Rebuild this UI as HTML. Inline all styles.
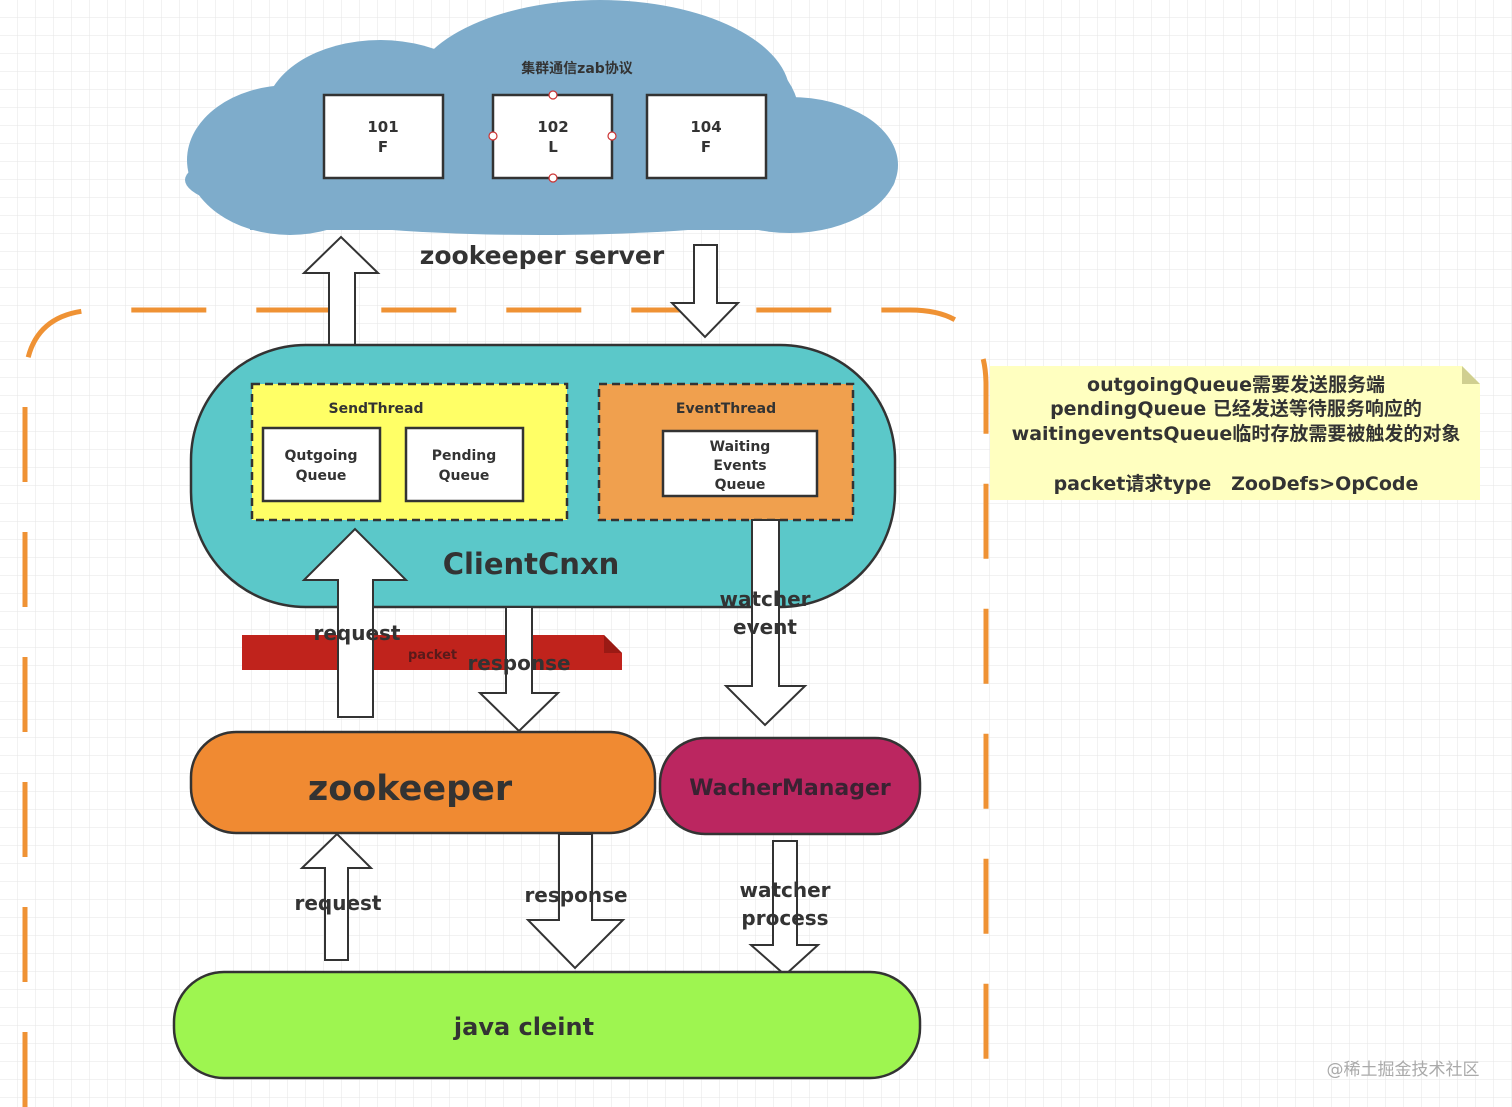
<!DOCTYPE html>
<html><head><meta charset="utf-8"><style>
html,body{margin:0;padding:0;background:#fff;}
svg{display:block;}
text{font-family:"DejaVu Sans","Liberation Sans","Noto Sans CJK SC",sans-serif;font-weight:bold;fill:#333;}
</style></head><body>
<svg width="1512" height="1107" viewBox="0 0 1512 1107" xmlns="http://www.w3.org/2000/svg">
<defs>
<pattern id="g" width="18" height="18" patternUnits="userSpaceOnUse">
<path d="M18 0V18H0" fill="none" stroke="#e6e6e6" stroke-width="1"/>
</pattern>
</defs>
<rect width="1512" height="1107" fill="#fff"/>
<rect width="1512" height="1107" fill="url(#g)"/>

<!-- cloud -->
<g fill="#7eaccb">
<ellipse cx="540" cy="180" rx="355" ry="55"/>
<ellipse cx="290" cy="160" rx="103" ry="75"/>
<ellipse cx="600" cy="95" rx="190" ry="95"/>
<ellipse cx="380" cy="115" rx="115" ry="75"/>
<ellipse cx="790" cy="165" rx="108" ry="68"/>
<ellipse cx="730" cy="120" rx="70" ry="70"/>
<rect x="250" y="120" width="560" height="110"/>
</g>
<text x="577" y="73" font-size="14" text-anchor="middle" font-family="Noto Sans CJK SC">集群通信zab协议</text>
<g fill="#fff" stroke="#333" stroke-width="2.5">
<rect x="324" y="95" width="119" height="83"/>
<rect x="493" y="95" width="119" height="83"/>
<rect x="647" y="95" width="119" height="83"/>
</g>
<g fill="#fff" stroke="#c33" stroke-width="1.2">
<circle cx="553" cy="95" r="4"/><circle cx="553" cy="178" r="4"/><circle cx="493" cy="136" r="4"/><circle cx="612" cy="136" r="4"/>
</g>
<g font-size="15" text-anchor="middle">
<text x="383" y="132">101</text><text x="383" y="152">F</text>
<text x="553" y="132">102</text><text x="553" y="152">L</text>
<text x="706" y="132">104</text><text x="706" y="152">F</text>
</g>
<text x="542" y="264" font-size="25" text-anchor="middle">zookeeper server</text>

<!-- orange dashed border -->
<path d="M25 1107 V385 Q25 310 100 310 H910 Q986 310 986 385 V1107" fill="none" stroke="#ef9234" stroke-width="5" stroke-dasharray="75,50"/>

<!-- server arrows -->
<path d="M329 347 V273 H304 L341 237 L378 273 H355 V347 Z" fill="#fff" stroke="#333" stroke-width="2"/>
<path d="M694 245 H717 V303 H738 L705 337 L672 303 H694 Z" fill="#fff" stroke="#333" stroke-width="2"/>

<!-- ClientCnxn -->
<rect x="191" y="345" width="704" height="262" rx="115" fill="#5bc8c9" stroke="#333" stroke-width="2.5"/>
<rect x="252" y="384" width="315" height="136" fill="#ffff66" stroke="#333" stroke-width="2.5" stroke-dasharray="8,5"/>
<rect x="599" y="384" width="254" height="136" fill="#f0a04e" stroke="#333" stroke-width="2.5" stroke-dasharray="8,5"/>
<g fill="#fff" stroke="#333" stroke-width="2.5">
<rect x="263" y="428" width="117" height="73"/>
<rect x="406" y="428" width="117" height="73"/>
<rect x="663" y="431" width="154" height="65"/>
</g>
<g font-size="14" text-anchor="middle">
<text x="376" y="413">SendThread</text>
<text x="726" y="413">EventThread</text>
<text x="321" y="460">Qutgoing</text><text x="321" y="480">Queue</text>
<text x="464" y="460">Pending</text><text x="464" y="480">Queue</text>
<text x="740" y="451">Waiting</text><text x="740" y="470">Events</text><text x="740" y="489">Queue</text>
</g>
<text x="531" y="574" font-size="29" text-anchor="middle">ClientCnxn</text>

<!-- red bar -->
<path d="M242 635 H604 L622 653 V670 H242 Z" fill="#c0231c"/>
<path d="M604 635 L622 653 H604 Z" fill="#9a1a14"/>
<text x="408" y="659" font-size="13" style="fill:#5a1a1a">packet</text>

<!-- middle arrows -->
<path d="M338 717 V580 H304 L355 529 L406 580 H373 V717 Z" fill="#fff" stroke="#333" stroke-width="2"/>
<path d="M506 607 H532 V693 H558 L519 731 L480 693 H506 Z" fill="#fff" stroke="#333" stroke-width="2"/>
<path d="M752 520 H779 V686 H805 L765 725 L726 686 H752 Z" fill="#fff" stroke="#333" stroke-width="2"/>
<g font-size="20" text-anchor="middle">
<text x="357" y="640">request</text>
<text x="519" y="670">response</text>
<text x="765" y="606">watcher</text>
<text x="765" y="634">event</text>
</g>

<!-- zookeeper / WacherManager -->
<rect x="191" y="732" width="464" height="101" rx="45" fill="#f08a32" stroke="#333" stroke-width="2.5"/>
<text x="410" y="800" font-size="35" text-anchor="middle">zookeeper</text>
<rect x="660" y="738" width="260" height="96" rx="45" fill="#bb2660" stroke="#333" stroke-width="2.5"/>
<text x="790" y="795" font-size="22" text-anchor="middle" style="fill:#3a2232">WacherManager</text>

<!-- bottom arrows -->
<path d="M325 960 V868 H302 L337 834 L371 868 H348 V960 Z" fill="#fff" stroke="#333" stroke-width="2"/>
<path d="M559 834 H592 V920 H623 L575 968 L528 920 H559 Z" fill="#fff" stroke="#333" stroke-width="2"/>
<path d="M773 841 H797 V945 H818 L785 975 L751 945 H773 Z" fill="#fff" stroke="#333" stroke-width="2"/>
<g font-size="20" text-anchor="middle">
<text x="338" y="910">request</text>
<text x="576" y="902">response</text>
<text x="785" y="897">watcher</text>
<text x="785" y="925">process</text>
</g>

<!-- java client -->
<rect x="174" y="972" width="746" height="106" rx="50" fill="#9ef550" stroke="#333" stroke-width="2.5"/>
<text x="524" y="1035" font-size="24" text-anchor="middle">java cleint</text>

<!-- note -->
<path d="M990 366 H1462 L1480 384 V500 H990 Z" fill="#ffffc0"/>
<path d="M1462 366 L1480 384 H1462 Z" fill="#d0cf90"/>
<g font-size="19" text-anchor="middle" font-family="DejaVu Sans, Noto Sans CJK SC">
<text x="1236" y="391">outgoingQueue需要发送服务端</text>
<text x="1236" y="415">pendingQueue 已经发送等待服务响应的</text>
<text x="1236" y="440">waitingeventsQueue临时存放需要被触发的对象</text>
<text x="1236" y="490" xml:space="preserve">packet请求type   ZooDefs&gt;OpCode</text>
</g>

<text x="1403" y="1075" font-size="17" text-anchor="middle" style="fill:#aaa;font-weight:normal" font-family="Noto Sans CJK SC">@稀土掘金技术社区</text>
</svg>
</body></html>
